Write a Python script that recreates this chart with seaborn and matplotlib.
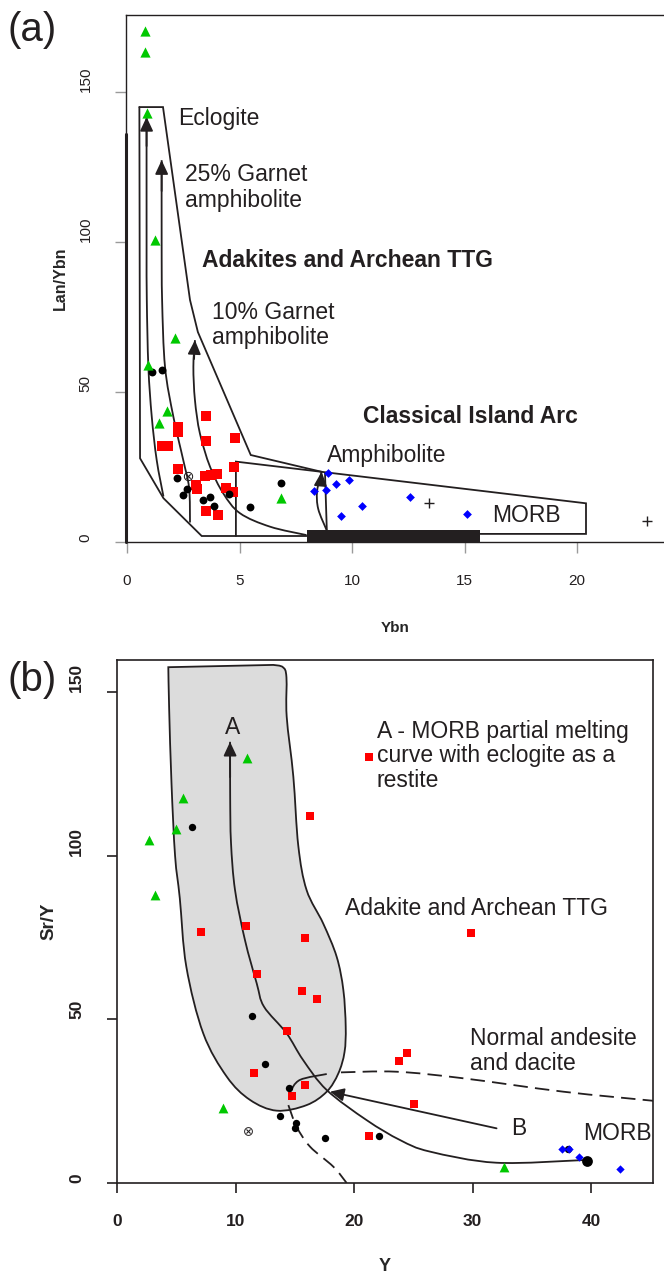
import numpy as np
import pandas as pd
import matplotlib
matplotlib.use("Agg")
import matplotlib.pyplot as plt
from matplotlib.path import Path
from matplotlib.patches import PathPatch, Rectangle
import seaborn as sns

# ---------------- panel (a): Lan/Ybn vs Ybn ----------------
a_tri_x = [0.8, 0.8, 0.88, 1.24, 0.95, 2.13, 1.78, 1.42, 6.84]
a_tri_y = [170.4, 163.5, 143.0, 100.7, 59.0, 68.0, 43.7, 39.7, 14.7]

a_circ_x = [1.1, 1.54, 2.24, 2.48, 2.65, 3.39, 3.69, 3.88, 4.53, 5.48, 6.84]
a_circ_y = [56.8, 57.3, 21.2, 15.8, 17.8, 14.0, 14.9, 12.1, 15.9, 11.8, 19.7]

a_sq_x = [3.50, 2.26, 2.28, 1.54, 1.84, 3.50, 4.80, 2.28, 3.48, 3.75, 3.99,
          4.76, 3.08, 3.11, 4.40, 4.70, 3.50, 4.03]
a_sq_y = [42.1, 38.4, 36.8, 31.9, 31.9, 33.7, 34.6, 24.5, 22.1, 22.3, 22.7,
          25.0, 19.0, 17.6, 17.9, 16.6, 10.3, 9.0]

a_dia_x = [8.95, 8.33, 8.84, 9.29, 9.85, 9.50, 10.46, 12.58, 15.10]
a_dia_y = [22.9, 17.0, 17.3, 19.3, 20.7, 8.8, 12.0, 14.9, 9.2]

a_plus_x = [13.4, 23.1]
a_plus_y = [12.9, 7.0]

a_cross_x = [2.7]
a_cross_y = [22.0]

# field outlines of panel (a)
a_adakite_right = [(0.55, 145), (1.6, 145), (2.8, 80.7), (3.15, 70), (5.5, 29), (8.65, 23.4)]
a_adakite_left = [(0.55, 145), (0.58, 27.9), (1.62, 14.6), (3.32, 2.0), (7.98, 2.0)]
a_arc_box = [(4.84, 2.0), (4.84, 26.8), (20.4, 12.9), (20.4, 2.7), (15.7, 2.7)]
a_eclogite = [(0.87, 141.7), (0.87, 100), (0.88, 80.7), (0.95, 58.4), (1.1, 41.8), (1.32, 27.3), (1.62, 15.2)]
a_garnet25 = [(1.54, 127.3), (1.54, 100), (1.56, 80.7), (1.69, 58.4), (2.06, 41.8), (2.5, 27.3), (2.76, 18), (2.8, 6.5)]
a_garnet10 = [(3.02, 67.3), (2.95, 58.4), (3.02, 47.3), (3.24, 36.2), (3.69, 25.1), (4.28, 16.2),
              (5.02, 9.6), (6.36, 5.1), (7.98, 2.3)]
a_amph_left = [(8.65, 23.4), (8.45, 17), (8.5, 11), (8.87, 4)]
a_amph_right = [(8.8, 23.0), (8.88, 4)]
a_bar = (7.98, 15.7, 0.0, 4.0)

# ---------------- panel (b): Sr/Y vs Y ----------------
b_tri_x = [2.7, 3.2, 4.95, 5.6, 11.0, 8.92, 32.7]
b_tri_y = [104.8, 88.0, 108.2, 117.5, 129.8, 22.8, 4.8]

b_circ_x = [6.3, 11.37, 12.49, 14.5, 13.75, 15.08, 15.02, 17.55, 22.1, 38.1]
b_circ_y = [108.9, 51.0, 36.3, 28.9, 20.5, 18.4, 16.9, 13.6, 14.5, 10.4]

b_morb_x = [39.7]
b_morb_y = [6.7]

b_sq_x = [7.06, 10.86, 15.86, 16.29, 21.27, 29.9, 11.84, 15.59, 16.85, 14.32,
          11.59, 15.86, 14.8, 21.3, 24.5, 23.83, 25.06]
b_sq_y = [76.6, 78.4, 75.0, 112.1, 130.1, 76.3, 63.8, 58.7, 56.2, 46.5,
          33.5, 29.9, 26.6, 14.5, 39.8, 37.3, 24.1]

b_dia_x = [37.58, 38.17, 39.0, 42.45]
b_dia_y = [10.3, 10.4, 7.9, 4.2]

b_cross_x = [11.08]
b_cross_y = [15.9]

# field outlines of panel (b)
b_adakite_field = [(13.19, 158.3), (14.0, 157.6), (14.3, 154.5), (14.32, 142.5), (14.88, 124.2),
                   (15.3, 103), (16.0, 89.5), (17.4, 79.3), (18.54, 69.1), (19.1, 59), (19.3, 47.8),
                   (19.2, 40), (18.68, 33.5), (17.7, 27.9), (16.0, 23.8), (13.48, 22.1), (11.22, 25.4),
                   (9.26, 32.5), (7.28, 45.7), (5.85, 66.1), (5.3, 87), (4.9, 100), (4.6, 122),
                   (4.4, 145), (4.33, 157.6)]
b_curve_a = [(9.54, 134.8), (9.55, 118), (9.62, 104), (9.96, 89.5), (10.8, 74.2), (11.79, 61),
             (12.4, 53.9), (14.3, 45.8), (15.7, 37.6), (17.7, 28.4), (21.07, 19.2), (23.9, 13.1),
             (26.4, 9.6), (32.0, 6.2), (39.35, 7.0)]
b_arc_start = [(14.6, 27.9), (15.44, 31.5), (17.7, 33.3)]
b_andesite_top = [(18.9, 33.8), (23.6, 34.0), (29.2, 32.0), (37.66, 27.9), (45.3, 25.1)]
b_andesite_low = [(14.46, 23.8), (15.16, 17.2), (16.29, 11.1), (18.25, 5.0), (19.38, 0.0)]
b_arrow_b = [(32.03, 16.7), (17.97, 27.9)]

INK = "#231f20"
GREEN = "#00c800"


def smooth_path(pts):
    """Catmull-Rom chain turned into cubic Bezier segments."""
    p = np.asarray(pts, float)
    ext = np.vstack([p[0], p, p[-1]])
    verts = [p[0]]
    codes = [Path.MOVETO]
    for i in range(len(p) - 1):
        p0, p1, p2, p3 = ext[i], ext[i + 1], ext[i + 2], ext[i + 3]
        verts += [p1 + (p2 - p0) / 6.0, p2 - (p3 - p1) / 6.0, p2]
        codes += [Path.CURVE4] * 3
    return verts, codes


def draw_curve(ax, pts, lw=1.3, ls="-", close=False, face=None, z=2):
    verts, codes = smooth_path(pts)
    if close:
        verts = verts + [verts[0], verts[0]]
        codes = codes + [Path.LINETO, Path.CLOSEPOLY]
    patch = PathPatch(Path(verts, codes), facecolor=face if face else "none",
                      edgecolor=INK, lw=lw, linestyle=ls, zorder=z, clip_on=True)
    ax.add_patch(patch)


def draw_line(ax, pts, lw=1.3):
    xs, ys = zip(*pts)
    ax.plot(xs, ys, color=INK, lw=lw, zorder=2, solid_joinstyle="miter")


def arrow_head(ax, tip, tail, scale=14):
    ax.annotate("", xy=tip, xytext=tail,
                arrowprops=dict(arrowstyle="-|>,head_length=0.6,head_width=0.28",
                                color=INK, lw=1.3, shrinkA=0, shrinkB=0,
                                mutation_scale=scale), zorder=3)


def points(ax, x, y, marker, color, s, lw=0):
    df = pd.DataFrame({"x": x, "y": y})
    sns.scatterplot(data=df, x="x", y="y", marker=marker, color=color, s=s,
                    linewidth=lw, ax=ax, zorder=5, legend=False)


sns.set_theme(style="white")
plt.rcParams["font.family"] = ["Liberation Sans", "DejaVu Sans"]
plt.rcParams["text.color"] = INK

fig = plt.figure(figsize=(6.64, 12.74), dpi=100)
ax_a = fig.add_axes([126 / 664, 1 - 542 / 1274, 538 / 664, 527 / 1274])
ax_b = fig.add_axes([117 / 664, 1 - 1183 / 1274, 536 / 664, 523 / 1274])

# ---------- panel (a) ----------
ax = ax_a
draw_line(ax, a_adakite_right)
draw_line(ax, a_adakite_left)
draw_line(ax, a_arc_box)
draw_curve(ax, a_eclogite)
draw_curve(ax, a_garnet25)
draw_curve(ax, a_garnet10)
draw_curve(ax, a_amph_left)
draw_line(ax, a_amph_right)
ax.add_patch(Rectangle((a_bar[0], a_bar[2]), a_bar[1] - a_bar[0], a_bar[3] - a_bar[2],
                       facecolor=INK, edgecolor="none", zorder=3))
arrow_head(ax, a_eclogite[0], (0.87, 132))
arrow_head(ax, a_garnet25[0], (1.54, 117))
arrow_head(ax, a_garnet10[0], (2.98, 61))
arrow_head(ax, a_amph_left[0], (8.6, 19))

points(ax, a_dia_x, a_dia_y, "D", "#0000ff", 20)
points(ax, a_sq_x, a_sq_y, "s", "#ff0000", 42)
points(ax, a_circ_x, a_circ_y, "o", "#000000", 32)
points(ax, a_tri_x, a_tri_y, "^", GREEN, 54)
points(ax, a_plus_x, a_plus_y, "+", INK, 60, lw=1.0)
points(ax, a_cross_x, a_cross_y, "$\\otimes$", INK, 45)

fs = 16.5
ax.text(2.27, 141.3, "Eclogite", fontsize=fs, ha="left", va="center")
ax.text(2.58, 118.2, "25% Garnet\namphibolite", fontsize=fs, ha="left", va="center", linespacing=1.15)
ax.text(3.33, 94.0, "Adakites and Archean TTG", fontsize=fs, fontweight="bold", ha="left", va="center")
ax.text(3.76, 72.3, "10% Garnet\namphibolite", fontsize=fs, ha="left", va="center", linespacing=1.15)
ax.text(10.5, 42.0, "Classical Island Arc", fontsize=fs, fontweight="bold", ha="left", va="center")
ax.text(8.87, 29.0, "Amphibolite", fontsize=fs, ha="left", va="center")
ax.text(16.24, 9.0, "MORB", fontsize=fs, ha="left", va="center")

ax.set_xlim(-1 / 22.5, 537 / 22.5)
ax.set_ylim(0, 175.7)
ax.set_xticks([0, 5, 10, 15, 20])
ax.set_yticks([0, 50, 100, 150])
ax.tick_params(direction="out", length=8, width=1, color="#9a9a9a", labelsize=11,
               labelcolor=INK, bottom=True, left=True)
ax.tick_params(axis="x", pad=15)
ax.tick_params(axis="y", pad=16, labelrotation=90)
for lab in ax.get_yticklabels():
    lab.set_va("bottom")
for side in ["left", "bottom", "top"]:
    ax.spines[side].set_color(INK)
    ax.spines[side].set_linewidth(1.0)
ax.spines["right"].set_visible(False)
ax.plot([-0.06, -0.06], [0, 136], color=INK, lw=2.2, clip_on=False, zorder=1)
ax.set_xlabel("Ybn", fontsize=11, fontweight="bold")
ax.set_ylabel("Lan/Ybn", fontsize=11.5, fontweight="bold")
ax.xaxis.set_label_coords(0.5, -0.163)
ax.xaxis.label.set_va("center")
ax.yaxis.set_label_coords(-0.1227, 0.5)
ax.yaxis.label.set_va("center")
ax.grid(False)

# ---------- panel (b) ----------
ax = ax_b
draw_curve(ax, b_adakite_field, close=True, face="#dcdcdc", z=1)
draw_curve(ax, b_curve_a)
draw_curve(ax, b_arc_start)
draw_curve(ax, b_andesite_top, ls=(0, (8, 4)))
draw_curve(ax, b_andesite_low, ls=(0, (8, 4)))
arrow_head(ax, b_curve_a[0], (9.55, 124))
ax.annotate("", xy=b_arrow_b[1], xytext=b_arrow_b[0],
            arrowprops=dict(arrowstyle="-|>,head_length=0.6,head_width=0.28",
                            color=INK, lw=1.3, shrinkA=0, shrinkB=0, mutation_scale=14),
            zorder=3)

points(ax, b_sq_x, b_sq_y, "s", "#ff0000", 32)
points(ax, b_circ_x, b_circ_y, "o", "#000000", 28)
points(ax, b_morb_x, b_morb_y, "o", "#000000", 60)
points(ax, b_dia_x, b_dia_y, "D", "#0000ff", 18)
points(ax, b_tri_x, b_tri_y, "^", GREEN, 50)
points(ax, b_cross_x, b_cross_y, "$\\otimes$", INK, 40)

ax.text(9.76, 139.2, "A", fontsize=fs, ha="center", va="center")
ax.text(21.9, 130.5, "A - MORB partial melting\ncurve with eclogite as a\nrestite",
        fontsize=fs, ha="left", va="center", linespacing=1.08)
ax.text(19.24, 83.9, "Adakite and Archean TTG", fontsize=fs, ha="left", va="center")
ax.text(29.8, 40.4, "Normal andesite\nand dacite", fontsize=fs, ha="left", va="center", linespacing=1.1)
ax.text(33.3, 16.7, "B", fontsize=fs, ha="left", va="center")
ax.text(39.35, 15.2, "MORB", fontsize=fs, ha="left", va="center")

ax.set_xlim(0, 536 / 11.85)
ax.set_ylim(0, 159.8)
ax.set_xticks([0, 10, 20, 30, 40])
ax.set_yticks([0, 50, 100, 150])
ax.tick_params(direction="out", length=7, width=1.2, color=INK, labelsize=12.5,
               labelcolor=INK, bottom=True, left=True)
ax.tick_params(axis="x", pad=15)
ax.tick_params(axis="y", pad=16.5, labelrotation=90)
for lab in ax.get_yticklabels():
    lab.set_va("bottom")
for lab in ax.get_xticklabels() + ax.get_yticklabels():
    lab.set_fontweight("bold")
for side in ["left", "bottom", "top", "right"]:
    ax.spines[side].set_color(INK)
    ax.spines[side].set_linewidth(1.2)
ax.set_xlabel("Y", fontsize=13, fontweight="bold")
ax.set_ylabel("Sr/Y", fontsize=13.5, fontweight="bold")
ax.xaxis.set_label_coords(0.5, -0.1587)
ax.xaxis.label.set_va("center")
ax.yaxis.set_label_coords(-0.1269, 0.5)
ax.yaxis.label.set_va("center")
ax.grid(False)

fig.text(8 / 664, 1 - 30 / 1274, "(a)", fontsize=29, ha="left", va="center")
fig.text(8 / 664, 1 - 680 / 1274, "(b)", fontsize=29, ha="left", va="center")

fig.savefig("out.png", dpi=100, facecolor="white")
